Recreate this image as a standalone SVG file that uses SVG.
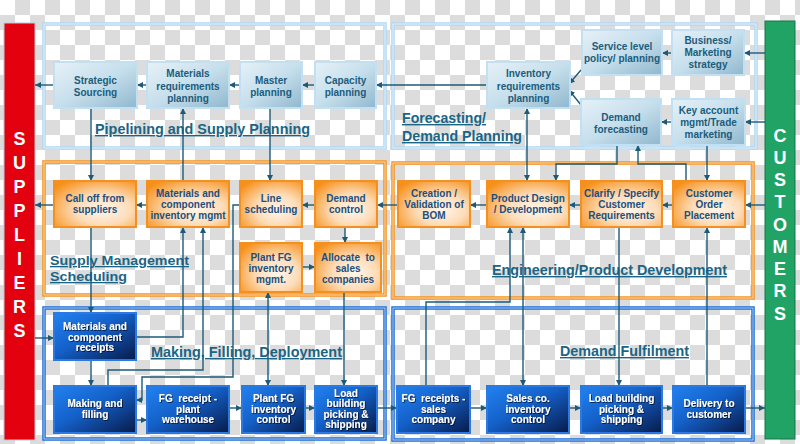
<svg xmlns="http://www.w3.org/2000/svg" width="800" height="444" viewBox="0 0 800 444">
<defs>
<pattern id="chk" width="30" height="30" patternUnits="userSpaceOnUse">
<rect width="30" height="30" fill="#ffffff"/>
<rect x="15" y="0" width="15" height="15" fill="#dcdcdc"/>
<rect x="0" y="15" width="15" height="15" fill="#dcdcdc"/>
</pattern>
<linearGradient id="gLB" x1="0" y1="0" x2="1" y2="1">
<stop offset="0" stop-color="#e6f1f8"/>
<stop offset="0.5" stop-color="#c6dfec"/>
<stop offset="1" stop-color="#8fb7cd"/>
</linearGradient>
<radialGradient id="gOR" cx="0.6" cy="0.62" r="0.75">
<stop offset="0" stop-color="#fff6ec"/>
<stop offset="0.45" stop-color="#fddcb8"/>
<stop offset="1" stop-color="#f6901a"/>
</radialGradient>
<linearGradient id="gBL" x1="0" y1="0" x2="1" y2="1">
<stop offset="0" stop-color="#2282f0"/>
<stop offset="0.45" stop-color="#1460c9"/>
<stop offset="1" stop-color="#081a48"/>
</linearGradient>
<filter id="tsh" x="-10%" y="-10%" width="130%" height="140%">
<feDropShadow dx="0.8" dy="0.8" stdDeviation="0.4" flood-color="#000" flood-opacity="0.8"/>
</filter>
<marker id="ah" viewBox="0 0 10 10" refX="10" refY="5" markerWidth="6" markerHeight="6" orient="auto-start-reverse" markerUnits="userSpaceOnUse">
<path d="M0,0 L10,5 L0,10 z" fill="#1d5a78"/>
</marker>
</defs>
<style>
text { font-family: "Liberation Sans", Arial, sans-serif; font-weight: bold; }
.lb rect { fill: url(#gLB); stroke: #c2e0f4; stroke-width: 2; }
.lb text { fill: #1c5c7c; font-size: 10px; text-anchor: middle; }
.or rect { fill: url(#gOR); stroke: #f39020; stroke-width: 2; }
.or text { fill: #1c4f7c; font-size: 10px; text-anchor: middle; }
.bl rect { fill: url(#gBL); stroke: #2a7ae2; stroke-width: 2; }
.bl text { fill: #ffffff; font-size: 10px; text-anchor: middle; filter: url(#tsh); }
.sec { fill: none; stroke-width: 3.5; }
.secL { stroke: #b0d8f3; }
.secO { stroke: #f5921e; }
.secB { stroke: #1c6fd8; }
.secIn { fill: none; stroke: #ffffff; stroke-width: 0.8; opacity: 0.8; }
.ttl { fill: #1a6585; font-size: 14px; text-decoration: underline; }
.bar text { fill: #ffffff; font-size: 18px; text-anchor: middle; }
.conn path { fill: none; stroke: #1d5a78; stroke-width: 1.4; }
.a { marker-end: url(#ah); }
.aa { marker-start: url(#ah); marker-end: url(#ah); }
</style>

<rect width="800" height="444" fill="url(#chk)"/>

<g id="sections">
<rect class="sec secL" x="44" y="24" width="341" height="124"/>
<rect class="secIn" x="44" y="24" width="341" height="124"/>
<rect class="sec secL" x="393" y="24" width="363" height="124"/>
<rect class="secIn" x="393" y="24" width="363" height="124"/>
<rect class="sec secO" x="44" y="162" width="341" height="133"/>
<rect class="secIn" x="44" y="162" width="341" height="133"/>
<rect class="sec secO" x="393" y="163" width="360" height="135"/>
<rect class="secIn" x="393" y="163" width="360" height="135"/>
<rect class="sec secB" x="44" y="308" width="341" height="131"/>
<rect class="secIn" x="44" y="308" width="341" height="131"/>
<rect class="sec secB" x="393" y="308" width="360" height="132"/>
<rect class="secIn" x="393" y="308" width="360" height="132"/>
</g>

<g id="titles">
<text class="ttl" x="95" y="134" textLength="215" lengthAdjust="spacingAndGlyphs">Pipelining and Supply Planning</text>
<text class="ttl" x="402" y="123" textLength="84" lengthAdjust="spacingAndGlyphs">Forecasting/</text>
<text class="ttl" x="402" y="141" textLength="120" lengthAdjust="spacingAndGlyphs">Demand Planning</text>
<text class="ttl" x="50" y="265" textLength="139" lengthAdjust="spacingAndGlyphs" style="font-size:13px">Supply Management</text>
<text class="ttl" x="50" y="281" textLength="77" lengthAdjust="spacingAndGlyphs" style="font-size:13px">Scheduling</text>
<text class="ttl" x="492" y="275" textLength="235" lengthAdjust="spacingAndGlyphs">Engineering/Product Development</text>
<text class="ttl" x="151" y="357" textLength="191" lengthAdjust="spacingAndGlyphs">Making, Filling, Deployment</text>
<text class="ttl" x="560" y="356" textLength="129" lengthAdjust="spacingAndGlyphs">Demand Fulfilment</text>
</g>

<g id="suppliers" class="bar">
<rect x="4" y="23" width="31" height="417" fill="#e3000f" stroke="#b9c9d6" stroke-width="1"/>
<text x="19.5" y="144.5">S</text>
<text x="19.5" y="168.5">U</text>
<text x="19.5" y="192.5">P</text>
<text x="19.5" y="216.5">P</text>
<text x="19.5" y="240.5">L</text>
<text x="19.5" y="264.5">I</text>
<text x="19.5" y="288.5">E</text>
<text x="19.5" y="312.5">R</text>
<text x="19.5" y="336.5">S</text>
</g>

<g id="customers" class="bar">
<rect x="765" y="21" width="30" height="418" fill="#21a366" stroke="#17744b" stroke-width="1"/>
<text x="780" y="141.5">C</text>
<text x="780" y="163.8">U</text>
<text x="780" y="186">S</text>
<text x="780" y="208.3">T</text>
<text x="780" y="230.5">O</text>
<text x="780" y="252.8">M</text>
<text x="780" y="275">E</text>
<text x="780" y="297.3">R</text>
<text x="780" y="319.5">S</text>
</g>

<g id="connectors" class="conn">
<path class="a" d="M54,85 H35"/>
<path class="a" d="M147,85 H137"/>
<path class="a" d="M240,85 H229"/>
<path class="a" d="M315,85 H302"/>
<path class="a" d="M487,85 H376"/>
<path class="a" d="M672,53 H662"/>
<path class="a" d="M765,53 H744"/>
<path class="a" d="M765,122 H745"/>
<path class="a" d="M672,122 H661"/>
<path class="a" d="M581,70 L569,84"/>
<path class="a" d="M581,105 L569,90"/>
<path class="aa" d="M527,108 V181"/>
<path class="a" d="M617,145 V164 H556 V181"/>
<path class="a" d="M686,181 V164 H638 V145"/>
<path class="a" d="M707,145 V181"/>
<path class="a" d="M91,108 V181"/>
<path class="a" d="M183,181 V108"/>
<path class="a" d="M270,108 V181"/>
<path class="a" d="M54,205 H35"/>
<path class="a" d="M147,205 H136"/>
<path class="a" d="M240,205 H233 V377 H142 V400 H136"/>
<path class="a" d="M315,205 H302"/>
<path class="a" d="M398,205 H377"/>
<path class="a" d="M345,227 V243"/>
<path class="a" d="M302,267 H315"/>
<path class="a" d="M136,337 H183 V227"/>
<path class="a" d="M108,386 V370 H203 V227"/>
<path class="a" d="M91,227 V313"/>
<path class="a" d="M35,338 H54"/>
<path class="a" d="M91,360 V386"/>
<path class="aa" d="M268,292 V386"/>
<path class="a" d="M344,292 V386"/>
<path class="a" d="M136,420 H147"/>
<path class="a" d="M229,408 H242"/>
<path class="a" d="M305,408 H315"/>
<path class="a" d="M377,408 H397"/>
<path class="a" d="M487,205 H470"/>
<path class="a" d="M581,205 H569"/>
<path class="a" d="M673,205 H662"/>
<path class="a" d="M765,205 H745"/>
<path class="a" d="M426,386 V302 H510 V227"/>
<path class="aa" d="M523,227 V386"/>
<path class="a" d="M619,227 V386"/>
<path class="a" d="M707,386 V227"/>
<path class="a" d="M470,408 H487"/>
<path class="a" d="M569,408 H581"/>
<path class="a" d="M662,408 H673"/>
<path class="a" d="M745,408 H765"/>
</g>

<g id="n_strategic" class="lb"><rect x="54" y="62" width="83" height="46"/><text x="95.5" y="83.5">Strategic</text><text x="95.5" y="95.5">Sourcing</text></g>
<g id="n_mrp" class="lb"><rect x="147" y="62" width="82" height="46"/><text x="188" y="77">Materials</text><text x="188" y="89.5">requirements</text><text x="188" y="102">planning</text></g>
<g id="n_master" class="lb"><rect x="240" y="62" width="62" height="46"/><text x="271" y="83.5">Master</text><text x="271" y="95.5">planning</text></g>
<g id="n_capacity" class="lb"><rect x="315" y="62" width="61" height="46"/><text x="345.5" y="83.5">Capacity</text><text x="345.5" y="95.5">planning</text></g>
<g id="n_invreq" class="lb"><rect x="487" y="62" width="83" height="46"/><text x="528.5" y="77">Inventory</text><text x="528.5" y="89.5">requirements</text><text x="528.5" y="102">planning</text></g>
<g id="n_service" class="lb"><rect x="582" y="30" width="80" height="45"/><text x="622" y="49.5">Service level</text><text x="622" y="61.5">policy/ planning</text></g>
<g id="n_business" class="lb"><rect x="672" y="30" width="72" height="45"/><text x="708" y="44">Business/</text><text x="708" y="56">Marketing</text><text x="708" y="68">strategy</text></g>
<g id="n_demandfc" class="lb"><rect x="581" y="99" width="80" height="46"/><text x="621" y="120.5">Demand</text><text x="621" y="132.5">forecasting</text></g>
<g id="n_keyacct" class="lb"><rect x="672" y="99" width="73" height="46"/><text x="708.5" y="114">Key account</text><text x="708.5" y="126">mgmt/Trade</text><text x="708.5" y="138">marketing</text></g>

<g id="n_calloff" class="or"><rect x="54" y="181" width="82" height="46"/><text x="95" y="201.5">Call off from</text><text x="95" y="212.5">suppliers</text></g>
<g id="n_mcim" class="or"><rect x="147" y="181" width="82" height="46"/><text x="188" y="196.5">Materials and</text><text x="188" y="207.5">component</text><text x="188" y="218.5">inventory mgmt</text></g>
<g id="n_line" class="or"><rect x="240" y="181" width="62" height="46"/><text x="271" y="201.5">Line</text><text x="271" y="212.5">scheduling</text></g>
<g id="n_demandctrl" class="or"><rect x="315" y="181" width="62" height="46"/><text x="346" y="201.5">Demand</text><text x="346" y="212.5">control</text></g>
<g id="n_plantfgmgmt" class="or"><rect x="240" y="243" width="62" height="49"/><text x="271" y="260.5">Plant FG</text><text x="271" y="271.5">inventory</text><text x="271" y="282.5">mgmt.</text></g>
<g id="n_allocate" class="or"><rect x="315" y="243" width="66" height="49"/><text x="348" y="260.5" xml:space="preserve">Allocate  to</text><text x="348" y="271.5">sales</text><text x="348" y="282.5">companies</text></g>
<g id="n_bom" class="or"><rect x="398" y="181" width="72" height="46"/><text x="434" y="196.5">Creation /</text><text x="434" y="207.5">Validation of</text><text x="434" y="218.5">BOM</text></g>
<g id="n_pdd" class="or"><rect x="487" y="181" width="82" height="46"/><text x="528" y="201.5">Product Design</text><text x="528" y="212.5">/ Development</text></g>
<g id="n_clarify" class="or"><rect x="581" y="181" width="81" height="46"/><text x="621.5" y="196.5">Clarify / Specify</text><text x="621.5" y="207.5">Customer</text><text x="621.5" y="218.5">Requirements</text></g>
<g id="n_cop" class="or"><rect x="673" y="181" width="72" height="46"/><text x="709" y="196.5">Customer</text><text x="709" y="207.5">Order</text><text x="709" y="218.5">Placement</text></g>

<g id="n_mcr" class="bl"><rect x="54" y="313" width="82" height="47"/><text x="95" y="329.5">Materials and</text><text x="95" y="340.5">component</text><text x="95" y="351">receipts</text></g>
<g id="n_making" class="bl"><rect x="54" y="386" width="82" height="47"/><text x="95" y="406.5">Making and</text><text x="95" y="417.5">filling</text></g>
<g id="n_fgplant" class="bl"><rect x="147" y="386" width="82" height="47"/><text x="188" y="401.5" xml:space="preserve">FG  receipt -</text><text x="188" y="412.5">plant</text><text x="188" y="423">warehouse</text></g>
<g id="n_plantfgctrl" class="bl"><rect x="242" y="386" width="63" height="47"/><text x="273.5" y="401.5">Plant FG</text><text x="273.5" y="412.5">inventory</text><text x="273.5" y="423">control</text></g>
<g id="n_load1" class="bl"><rect x="315" y="386" width="62" height="47"/><text x="346" y="396.5">Load</text><text x="346" y="407">building</text><text x="346" y="417.5">picking &amp;</text><text x="346" y="428">shipping</text></g>
<g id="n_fgsales" class="bl"><rect x="397" y="386" width="73" height="47"/><text x="433.5" y="401.5" xml:space="preserve">FG  receipts -</text><text x="433.5" y="412.5">sales</text><text x="433.5" y="423">company</text></g>
<g id="n_salesco" class="bl"><rect x="487" y="386" width="82" height="47"/><text x="528" y="401.5">Sales co.</text><text x="528" y="412.5">inventory</text><text x="528" y="423">control</text></g>
<g id="n_load2" class="bl"><rect x="581" y="386" width="81" height="47"/><text x="621.5" y="401.5">Load building</text><text x="621.5" y="412.5">picking &amp;</text><text x="621.5" y="423">shipping</text></g>
<g id="n_delivery" class="bl"><rect x="673" y="386" width="72" height="47"/><text x="709" y="406.5">Delivery to</text><text x="709" y="417.5">customer</text></g>
</svg>
